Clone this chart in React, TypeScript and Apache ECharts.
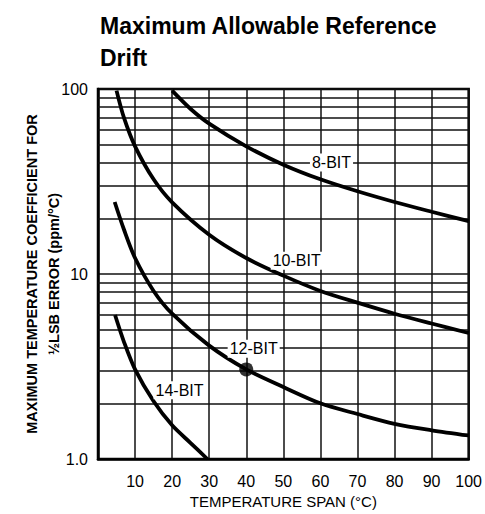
import React, { useEffect, useRef } from "react";
import * as echarts from "echarts";

const titleLines = ["Maximum Allowable Reference", "Drift"];
const xName = "TEMPERATURE SPAN (°C)";
const yName = "MAXIMUM TEMPERATURE COEFFICIENT FOR\n½LSB ERROR (ppm/°C)";

const bit8 = [[20, 98], [25, 78], [30, 65], [40, 49], [50, 39], [60, 32.5], [70, 28], [80, 24.5], [90, 21.7], [100, 19.3]];
const bit10 = [[5, 98], [7, 70], [10, 49], [15, 32.5], [20, 24.4], [30, 16.3], [40, 12.2], [50, 9.8], [60, 8.1], [70, 7.0], [80, 6.1], [90, 5.4], [100, 4.8]];
const bit12 = [[4.5, 24.5], [7, 17.4], [10, 12.2], [15, 8.1], [20, 6.1], [30, 4.1], [40, 3.05], [50, 2.45], [60, 2.0], [70, 1.75], [80, 1.55], [90, 1.43], [100, 1.34]];
const bit14 = [[4.6, 6.0], [7, 4.3], [10, 3.05], [15, 2.05], [20, 1.52], [25, 1.22], [29.5, 1.0]];

const curveNames = ["8-BIT", "10-BIT", "12-BIT", "14-BIT"];
const labelAt = [[63, 40], [53.6, 11.8], [42, 3.95], [22, 2.35]];
const dotPoint = [[40, 3.05]];
const minorGrid = [2, 3, 4, 5, 6, 7, 8, 9, 20, 30, 40, 50, 60, 70, 80, 90];

const FONT = "'Liberation Sans', Arial, sans-serif";

export default function App() {
  const ref = useRef<HTMLDivElement>(null);
  useEffect(() => {
    const chart = echarts.init(ref.current!, null, { renderer: "svg" });
    const curves = [bit8, bit10, bit12, bit14];
    const series: any[] = curves.map((d, i) => ({
      type: "line",
      name: curveNames[i],
      data: d,
      smooth: 0.3,
      showSymbol: false,
      symbol: "none",
      z: 5,
      lineStyle: { color: "#000", width: 3.8 },
      markPoint: {
        symbol: "rect",
        symbolSize: 0,
        z: 6,
        data: [{ coord: labelAt[i], value: curveNames[i] }],
        label: {
          show: true,
          position: "inside",
          formatter: curveNames[i],
          color: "#000",
          fontSize: 16,
          fontFamily: FONT,
          backgroundColor: "#fff",
          padding: [1, 2],
        },
      },
    }));
    series.push({
      type: "line",
      data: [],
      markLine: {
        silent: true,
        symbol: "none",
        label: { show: false },
        lineStyle: { color: "#111", width: 1.5, type: "solid" },
        data: minorGrid.map((v) => ({ yAxis: v })),
      },
      z: 2,
    });
    series.push({
      type: "scatter",
      data: dotPoint,
      symbol: "circle",
      symbolSize: 14,
      itemStyle: { color: "#000" },
      z: 7,
    });
    chart.setOption({
      animation: false,
      backgroundColor: "#fff",
      title: {
        text: titleLines.join("\n"),
        left: 95,
        top: 5,
        textStyle: { fontFamily: FONT, fontWeight: "bold", fontSize: 23, lineHeight: 32, color: "#000" },
      },
      grid: { left: 98, right: 14, top: 89, bottom: 53, show: true, borderColor: "#000", borderWidth: 2.5, backgroundColor: "transparent" },
      xAxis: {
        type: "value",
        min: 0,
        max: 100,
        interval: 10,
        name: xName,
        nameLocation: "middle",
        nameGap: 35,
        nameTextStyle: { fontFamily: FONT, fontSize: 15, color: "#000" },
        axisLine: { show: true, lineStyle: { color: "#000", width: 2.5 } },
        axisTick: { show: false },
        axisLabel: {
          formatter: (v: number) => (v === 0 ? "" : String(v)),
          fontFamily: FONT,
          fontSize: 16,
          color: "#000",
          margin: 14,
        },
        splitLine: { show: true, lineStyle: { color: "#111", width: 1.5 } },
      },
      yAxis: {
        type: "log",
        logBase: 10,
        min: 1,
        max: 100,
        name: yName,
        nameLocation: "middle",
        nameRotate: 90,
        nameGap: 33,
        nameMoveOverlap: false,
        nameTextStyle: { fontFamily: FONT, fontSize: 14.5, fontWeight: "bold", color: "#000", lineHeight: 22 },
        axisLine: { show: true, lineStyle: { color: "#000", width: 2.5 } },
        axisTick: { show: false },
        axisLabel: {
          formatter: (v: number) => (v === 1 ? "1.0" : String(v)),
          fontFamily: FONT,
          fontSize: 16,
          color: "#000",
          margin: 10,
        },
        splitLine: { show: true, lineStyle: { color: "#111", width: 1.5 } },
      },
      series,
    });
    return () => chart.dispose();
  }, []);
  return <div ref={ref} style={{ position: "fixed", left: 0, top: 0, width: 485, height: 514 }} />;
}
